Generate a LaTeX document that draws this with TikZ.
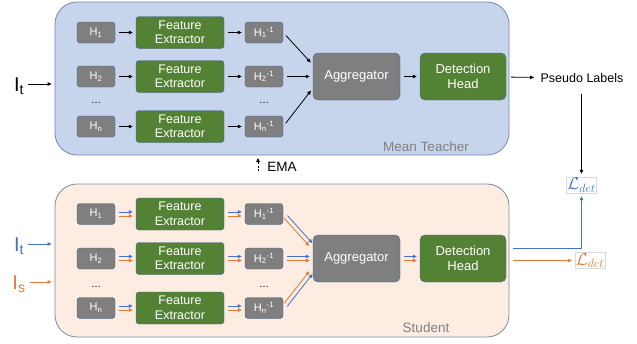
\documentclass[tikz,border=0pt]{standalone}
\usepackage{fontspec}
\setmainfont{Liberation Sans}
\usetikzlibrary{arrows.meta,calc}
\definecolor{teachfill}{HTML}{C6D4EC}
\definecolor{teachline}{HTML}{7088B5}
\definecolor{studfill}{HTML}{FDECE2}
\definecolor{studline}{HTML}{7A89A6}
\definecolor{greynode}{HTML}{7F7F7F}
\definecolor{greennode}{HTML}{548235}
\definecolor{nodeline}{HTML}{44638F}
\definecolor{tblue}{HTML}{4472C4}
\definecolor{torange}{HTML}{E07B39}
\definecolor{labelgrey}{HTML}{808080}

\tikzset{
  bigbox/.style={draw, line width=0.8pt, rounded corners=22pt, minimum width=454pt, minimum height=153pt, inner sep=0pt},
  hbox/.style={draw=nodeline, fill=greynode, rounded corners=3pt, minimum width=38pt, minimum height=21pt, inner sep=0pt, text=white, font=\fontsize{11}{12}\selectfont},
  febox/.style={hbox, fill=greennode, minimum width=88pt, minimum height=32pt, align=center, font=\fontsize{12.5}{14.5}\selectfont},
  aggbox/.style={hbox, minimum width=87pt, minimum height=47pt, rounded corners=5pt, align=center, font=\fontsize{13}{15}\selectfont},
  headbox/.style={aggbox, fill=greennode, minimum width=86pt},
  lossbox/.style={draw=black!15, fill=white, inner sep=0.8pt, font=\fontsize{17.28}{19}\selectfont},
  tarrow/.style={draw=black, line width=0.8pt, -{Triangle[length=4pt,width=3.5pt]}, shorten <=4pt, shorten >=3pt},
  barrow/.style={tarrow, draw=tblue},
  oarrow/.style={tarrow, draw=torange},
}

\begin{document}
\begin{tikzpicture}[x=1pt,y=-1pt]
\useasboundingbox (0,0) rectangle (637,343);

% mean teacher
\node[bigbox, draw=teachline, fill=teachfill] (teach) at (282,78.5) {};
\node[text=labelgrey, font=\fontsize{13.5}{15}\selectfont] at (426,147) {Mean Teacher};
\foreach \r/\y in {1/32.5, 2/76.5, n/126.5} {
  \node[hbox] (th\r) at (96,\y) {H\textsubscript{\r}};
  \node[febox] (tf\r) at (180,\y) {Feature\\Extractor};
  \node[hbox] (ti\r) at (264,\y) {H\textsubscript{\r}\textsuperscript{-1}};
  \draw[tarrow] (th\r) -- (tf\r);
  \draw[tarrow] (tf\r) -- (ti\r);
}
\node at (96,103) {\dots};
\node at (264,103) {\dots};
\node[aggbox] (tagg) at (356.5,76.5) {Aggregator};
\node[headbox] (thead) at (463,76.5) {Detection\\Head};
\draw[tarrow] (ti1.east) -- (tagg.165);
\draw[tarrow] (ti2) -- (tagg);
\draw[tarrow] (tin.east) -- (tagg.195);
\draw[tarrow] (tagg) -- (thead);

\node[font=\fontsize{20}{22}\selectfont, inner sep=0pt] (inT) at (19,86) {I\textsubscript{t}};
\draw[tarrow] (inT.east |- 0,84) -- (teach.west |- 0,84);
\node[font=\fontsize{12.5}{14}\selectfont] (pl) at (582,78) {Pseudo Labels};
\draw[tarrow, shorten <=5pt] (thead) -- (pl);

% EMA
\coordinate (emab) at (258,171);
\coordinate (emat) at (258,158);
\draw[tarrow, dash pattern=on 2pt off 1.5pt, shorten <=0pt, shorten >=0pt] (emab) -- (emat);
\node[font=\fontsize{13.5}{15}\selectfont] (ema) at (282,167) {EMA};

% student
\node[bigbox, draw=studline, fill=studfill] (stud) at (282,260.5) {};
\node[text=labelgrey, font=\fontsize{13.5}{15}\selectfont] at (426,328) {Student};
\foreach \r/\y in {1/214, 2/258.5, n/308} {
  \node[hbox] (sh\r) at (96,\y) {H\textsubscript{\r}};
  \node[febox] (sf\r) at (180,\y) {Feature\\Extractor};
  \node[hbox] (si\r) at (264,\y) {H\textsubscript{\r}\textsuperscript{-1}};
  \draw[barrow, transform canvas={yshift=2pt}] (sh\r) -- (sf\r);
  \draw[oarrow, transform canvas={yshift=-2pt}] (sh\r) -- (sf\r);
  \draw[barrow, transform canvas={yshift=2pt}] (sf\r) -- (si\r);
  \draw[oarrow, transform canvas={yshift=-2pt}] (sf\r) -- (si\r);
}
\node at (96,287) {\dots};
\node at (264,287) {\dots};
\node[aggbox] (sagg) at (356.5,258.5) {Aggregator};
\node[headbox] (shead) at (463,258.5) {Detection\\Head};
\draw[barrow, transform canvas={xshift=1.6pt, yshift=1.4pt}] (si1.east) -- (sagg.165);
\draw[oarrow, transform canvas={xshift=-1.6pt, yshift=-1.4pt}] (si1.east) -- (sagg.165);
\draw[barrow, transform canvas={yshift=2pt}] (si2) -- (sagg);
\draw[oarrow, transform canvas={yshift=-2pt}] (si2) -- (sagg);
\draw[barrow, transform canvas={xshift=1.6pt, yshift=-1.4pt}] (sin.east) -- (sagg.195);
\draw[oarrow, transform canvas={xshift=-1.6pt, yshift=1.4pt}] (sin.east) -- (sagg.195);
\draw[barrow, transform canvas={yshift=2pt}] (sagg) -- (shead);
\draw[oarrow, transform canvas={yshift=-2pt}] (sagg) -- (shead);

\node[font=\fontsize{20}{22}\selectfont, inner sep=0pt, text=tblue] (inS1) at (19,246) {I\textsubscript{t}};
\node[font=\fontsize{20}{22}\selectfont, inner sep=0pt, text=torange] (inS2) at (19,284) {I\textsubscript{s}};
\draw[barrow] (inS1.east |- 0,244) -- (stud.west |- 0,244);
\draw[oarrow] (inS2.east |- 0,282) -- (stud.west |- 0,282);

% losses
\node[lossbox, text=tblue] (ldb) at (581.5,185) {$\mathcal{L}_{det}$};
\node[lossbox, text=torange] (ldo) at (590,260.5) {$\mathcal{L}_{det}$};
\draw[tarrow, shorten <=8pt, shorten >=3pt] (pl.south -| ldb) -- (ldb.north);
\draw[barrow, shorten <=0pt] ($(shead.east)+(7,-10.5)$) -| (ldb.south);
\draw[oarrow, shorten <=0pt] ($(shead.east |- ldo)+(7,0)$) -- (ldo.west);
\end{tikzpicture}
\end{document}
